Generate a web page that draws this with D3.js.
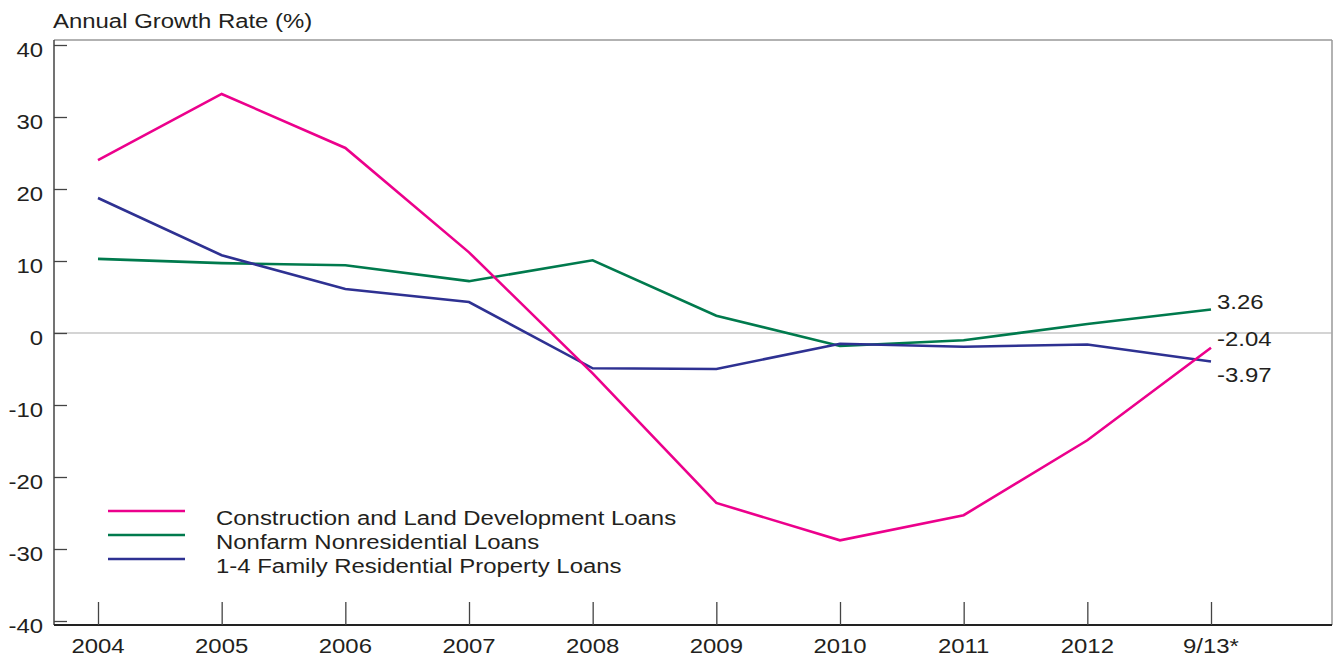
<!DOCTYPE html>
<html><head><meta charset="utf-8">
<script src="https://cdn.jsdelivr.net/npm/d3@7"></script>
<style>body{margin:0;background:#fff}svg{display:block}text{font-family:"Liberation Sans",Arial,sans-serif;fill:#231f20}</style>
</head><body><svg id="c" width="1333" height="658"></svg>
<script>
const categories = ["2004","2005","2006","2007","2008","2009","2010","2011","2012","9/13*"];
const construction = [24.0,33.2,25.7,11.2,-5.6,-23.6,-28.8,-25.3,-14.9,-2.04];
const nonfarm = [10.3,9.7,9.4,7.2,10.1,2.4,-1.8,-1.0,1.25,3.26];
const residential = [18.75,10.8,6.1,4.3,-4.9,-5.0,-1.5,-1.9,-1.6,-3.97];
const seriesNames = ["Construction and Land Development Loans","Nonfarm Nonresidential Loans","1-4 Family Residential Property Loans"];
const colors = ["#ec008c","#007a4d","#2e3192"];
const yTicks = [40,30,20,10,0,-10,-20,-30,-40];
const endLabels = ["-2.04","3.26","-3.97"];

const svg = d3.select("#c");
const L=54, R=1332, T=40, B=625;
const SX=1.14, FS=21;
const x = d3.scalePoint().domain(categories).range([98,1211]);
const y = d3.scaleLinear().domain([-40,40]).range([621,45]);

function txt(g, tx, ty, s, anchor){
  return g.append("text").attr("transform",`translate(${tx},${ty}) scale(${SX},1)`)
    .attr("text-anchor",anchor||"start").attr("font-size",FS).text(s);
}

// frame
svg.append("line").attr("x1",L).attr("x2",R).attr("y1",T).attr("y2",T).attr("stroke","#999").attr("stroke-width",1.5);
svg.append("line").attr("x1",R).attr("x2",R).attr("y1",T).attr("y2",B).attr("stroke","#999").attr("stroke-width",1.5);
// zero line
svg.append("line").attr("x1",L).attr("x2",R).attr("y1",y(0)).attr("y2",y(0)).attr("stroke","#aaa").attr("stroke-width",1.2);

// y axis
const ya = svg.append("g").attr("transform",`translate(${L},0)`)
  .call(d3.axisRight(y).tickValues(yTicks).tickSize(13).tickFormat(""));
ya.select(".domain").attr("stroke","#444").attr("stroke-width",1.5).attr("d",`M0,${T}V${B}`);
ya.selectAll(".tick line").attr("stroke","#444").attr("stroke-width",1.3);
const yl = svg.append("g");
yTicks.forEach(d=>txt(yl, L-11, y(d)+12, d, "end"));

// x axis
const xa = svg.append("g").attr("transform",`translate(0,${B})`)
  .call(d3.axisTop(x).tickSize(23).tickFormat(""));
xa.select(".domain").attr("stroke","#222").attr("stroke-width",1.8).attr("d",`M${L},0H${R}`);
xa.selectAll(".tick line").attr("stroke","#444").attr("stroke-width",1.3);
const xl = svg.append("g");
categories.forEach(d=>txt(xl, x(d), 653, d, "middle"));

// title
txt(svg, 53, 28, "Annual Growth Rate (%)");

// lines
const data=[construction,nonfarm,residential];
const line=d3.line().x((d,i)=>x(categories[i])).y(d=>y(d));
[1,2,0].forEach(k=>{
  svg.append("path").datum(data[k]).attr("d",line).attr("fill","none")
    .attr("stroke",colors[k]).attr("stroke-width",2.6).attr("stroke-linejoin","miter");
});

// end labels
const labBase=[346,309,382];
endLabels.forEach((t,k)=>txt(svg, 1217, labBase[k], t));

// legend
const lg = svg.append("g");
seriesNames.forEach((n,k)=>{
  const yy=511+k*24;
  lg.append("line").attr("x1",108).attr("x2",185).attr("y1",yy).attr("y2",yy).attr("stroke",colors[k]).attr("stroke-width",2.6);
  txt(lg, 216, yy+14, n);
});
</script></body></html>
